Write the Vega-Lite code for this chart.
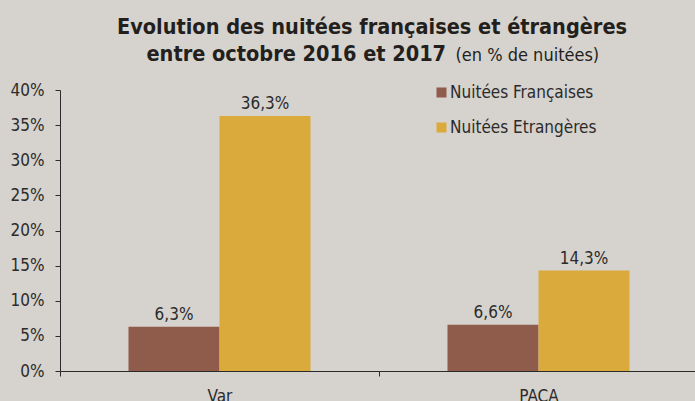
{
  "$schema": "https://vega.github.io/schema/vega-lite/v6.json",
  "width": 638,
  "height": 281,
  "autosize": {"type": "none"},
  "padding": {"left": 60, "top": 90, "right": 0, "bottom": 30},
  "background": "#d6d2cd",
  "title": {
    "text": "Evolution des nuitées françaises et étrangères",
    "anchor": "middle",
    "frame": "group",
    "dx": -7,
    "dy": 17,
    "offset": 5,
    "baseline": "alphabetic",
    "font": "DejaVu Sans Condensed",
    "fontSize": 21.5,
    "fontWeight": "bold",
    "color": "#231f1c"
  },
  "config": {
    "locale": {"number": {"decimal": ",", "thousands": " ", "grouping": [3], "currency": ["", " €"]}},
    "view": {"stroke": null},
    "font": "DejaVu Sans Condensed"
  },
  "data": {
    "values": [
      {"region": "Var", "type": "Nuitées Françaises", "value": 0.063},
      {"region": "Var", "type": "Nuitées Etrangères", "value": 0.363},
      {"region": "PACA", "type": "Nuitées Françaises", "value": 0.066},
      {"region": "PACA", "type": "Nuitées Etrangères", "value": 0.143}
    ]
  },
  "encoding": {
    "x": {
      "field": "region",
      "type": "nominal",
      "sort": ["Var", "PACA"],
      "scale": {"paddingInner": 0, "paddingOuter": 0},
      "axis": {
        "title": "entre octobre 2016 et 2017",
        "titleX": 86,
        "titleY": -311,
        "titleAlign": "left",
        "titleAnchor": null,
        "titleBaseline": "alphabetic",
        "titleFont": "DejaVu Sans Condensed",
        "titleFontSize": 21.5,
        "titleFontWeight": "bold",
        "titleColor": "#231f1c",
        "labelAngle": 0,
        "labelFontSize": 17,
        "labelColor": "#2b2b2b",
        "labelPadding": 12,
        "tickBand": "extent",
        "tickSize": 5,
        "tickColor": "#2b2b2b",
        "domainColor": "#2b2b2b",
        "grid": false
      }
    },
    "xOffset": {"field": "type", "type": "nominal", "sort": ["Nuitées Françaises", "Nuitées Etrangères"], "scale": {"paddingInner": 0, "paddingOuter": 0.7527}},
    "y": {
      "field": "value",
      "type": "quantitative",
      "scale": {"domain": [0, 0.4]},
      "axis": {
        "values": [0, 0.05, 0.1, 0.15, 0.2, 0.25, 0.3, 0.35, 0.4],
        "format": ".0%",
        "title": "(en % de nuitées)",
        "titleAngle": 0,
        "titleX": 395,
        "titleY": -30,
        "titleAlign": "left",
        "titleAnchor": null,
        "titleBaseline": "alphabetic",
        "titleFont": "DejaVu Sans Condensed",
        "titleFontSize": 18,
        "titleFontWeight": "normal",
        "titleColor": "#231f1c",
        "labelFontSize": 17,
        "labelColor": "#2b2b2b",
        "labelPadding": 11,
        "tickSize": 5,
        "tickColor": "#2b2b2b",
        "domainColor": "#2b2b2b",
        "grid": false
      }
    }
  },
  "layer": [
    {
      "mark": {"type": "bar"},
      "encoding": {
        "color": {
          "field": "type",
          "type": "nominal",
          "scale": {"domain": ["Nuitées Françaises", "Nuitées Etrangères"], "range": ["#8f5b4b", "#dbaa3d"]},
          "legend": {
            "title": null,
            "orient": "none",
            "legendX": 373,
            "legendY": -6,
            "padding": 0,
            "symbolType": "square",
            "symbolSize": 100,
            "symbolStrokeWidth": 0,
            "labelFont": "DejaVu Sans Condensed",
            "labelFontSize": 17,
            "labelColor": "#2b2b2b",
            "labelOffset": 0,
            "rowPadding": 17
          }
        }
      }
    },
    {
      "mark": {"type": "text", "baseline": "alphabetic", "dy": -7, "fontSize": 17, "color": "#2b2b2b", "font": "DejaVu Sans Condensed"},
      "encoding": {
        "text": {"field": "value", "type": "quantitative", "format": ".1%"}
      }
    }
  ]
}
